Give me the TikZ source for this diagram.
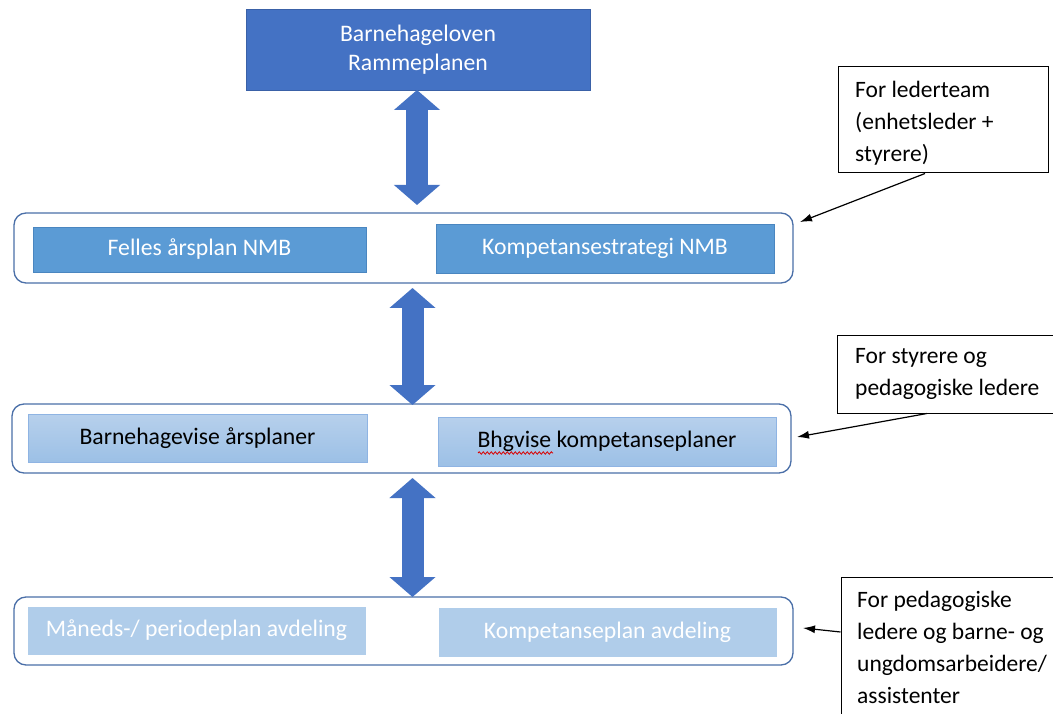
\documentclass[tikz,border=0pt]{standalone}
\usepackage{fontspec}
\setmainfont{Carlito}
\usetikzlibrary{arrows.meta,decorations.pathmorphing}
\definecolor{dblue}{HTML}{4472C4}
\definecolor{mblue}{HTML}{5B9BD5}
\definecolor{mborder}{HTML}{4A86C0}
\definecolor{lblue}{HTML}{B0CDEA}
\definecolor{gtop}{HTML}{B7D0EC}
\definecolor{gbot}{HTML}{9CC0E6}
\definecolor{gborder}{HTML}{8FB4E3}
\definecolor{frameblue}{HTML}{4A6FA8}
\begin{document}
\begin{tikzpicture}[x=1pt,y=-1pt,
  font=\fontsize{23.7}{29}\selectfont,
  framebox/.style={draw=frameblue, line width=1.3pt, rounded corners=12pt, minimum width=779pt, inner sep=0pt},
  darkbox/.style={fill=mblue, draw=mborder, line width=0.7pt, text=white, inner sep=0pt},
  gradbox/.style={top color=gtop, bottom color=gbot, draw=gborder, line width=1pt, text=black, inner sep=0pt},
  lightbox/.style={fill=lblue, draw=lblue, text=white, inner sep=0pt},
  bigarrow/.style={dblue, line width=22pt, {Triangle[length=20pt,width=45pt]}-{Triangle[length=20pt,width=45pt]}},
  callout/.style={draw=black, line width=1pt, inner sep=0pt},
  callouttext/.style={anchor=north west, inner sep=0pt, align=left, font=\fontsize{23.5}{32}\selectfont},
  pointer/.style={draw=black, line width=1.2pt, -{Latex[length=12pt,width=8pt]}}
]
\useasboundingbox (0,0) rectangle (1053,714);
\clip (0,0) rectangle (1053,714);
\fill[white] (0,0) rectangle (1053,714);

% top box
\node[fill=dblue, draw=dblue!85!black, line width=0.8pt, text=white, minimum width=344pt, minimum height=81pt, align=center, inner sep=0pt] (top) at (418,50) {Barnehageloven\\Rammeplanen};

% frames
\node[framebox, minimum height=70pt] (f1) at (403.5,248) {};
\node[framebox, minimum height=69pt] (f2) at (401.5,438.5) {};
\node[framebox, minimum height=68pt] (f3) at (403.5,631) {};

% row 1
\node[darkbox, minimum width=333pt, minimum height=45pt] (r1l) at (199.5,249.5) {Felles årsplan NMB};
\node[darkbox, minimum width=338pt, minimum height=49pt] (r1r) at (605,248.5) {Kompetansestrategi NMB};

% row 2
\node[gradbox, minimum width=339pt, minimum height=48pt] (r2l) at (197.5,438) {Barnehagevise årsplaner};
\node[gradbox, minimum width=338pt, minimum height=49pt] (r2r) at (607,441.5) {Bhgvise kompetanseplaner};
\draw[red!85!black, line width=0.8pt, decorate, decoration={snake, amplitude=1.2pt, segment length=4pt}] (478,453) -- (553,453);

% row 3
\node[lightbox, minimum width=337pt, minimum height=47pt] (r3l) at (196.5,630.5) {Måneds-/ periodeplan avdeling};
\node[lightbox, minimum width=337pt, minimum height=48pt] (r3r) at (607.5,632) {Kompetanseplan avdeling};

% big double arrows
\coordinate (a1s) at (417,90);
\coordinate (a1e) at (417,205);
\coordinate (a2s) at (412.5,288);
\coordinate (a2e) at (412.5,405);
\coordinate (a3s) at (412.5,478);
\coordinate (a3e) at (412.5,597);
\draw[bigarrow] (a1s) -- (a1e);
\draw[bigarrow] (a2s) -- (a2e);
\draw[bigarrow] (a3s) -- (a3e);

% callouts
\node[callout, minimum width=210pt, minimum height=106pt] (c1) at (943,120) {};
\node[callouttext] (c1t) at (855,74.6) {\strut For lederteam\\(enhetsleder +\\styrere)};
\node[callout, minimum width=240pt, minimum height=78pt] (c2) at (957,374) {};
\node[callouttext] (c2t) at (855,340.6) {\strut For styrere og\\pedagogiske ledere};
\node[callout, minimum width=240pt, minimum height=180pt] (c3) at (961,667) {};
\node[callouttext] (c3t) at (857,584.6) {\strut For pedagogiske\\ledere og barne- og\\ungdomsarbeidere/\\assistenter};

\coordinate (p1) at (800,222);
\coordinate (p2) at (797,437);
\coordinate (p3) at (803,628);
\draw[pointer] ([xshift=-18pt]c1.south) -- (p1);
\draw[pointer] ([xshift=-30pt]c2.south) -- (p2);
\draw[pointer] ([yshift=35pt]c3.west) -- (p3);
\end{tikzpicture}
\end{document}
